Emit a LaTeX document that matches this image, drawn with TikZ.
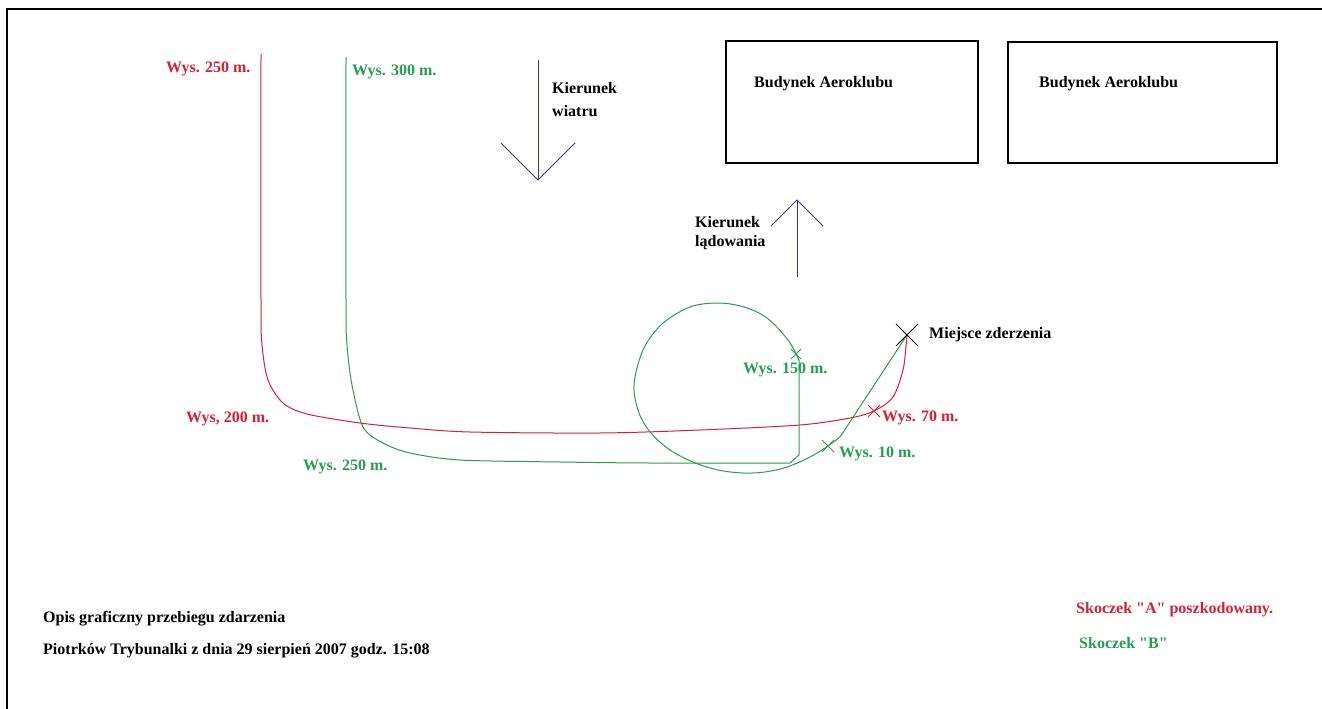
\documentclass[tikz,border=0pt]{standalone}
\usepackage{fontspec}
\setmainfont{Liberation Serif}
\newfontfamily\plainq{Liberation Serif}
\newcommand{\sq}{{\plainq\bfseries\char34}}
\definecolor{redA}{RGB}{214,32,52}
\definecolor{greenB}{RGB}{38,158,78}
\definecolor{arrowblue}{RGB}{52,52,140}
\tikzset{
  lbl/.style={font=\fontsize{16}{19}\selectfont\bfseries, inner sep=0pt, anchor=base west},
  redline/.style={draw=redA, line width=1pt},
  greenline/.style={draw=greenB, line width=1pt},
  arrowline/.style={draw=arrowblue, line width=1pt},
  building/.style={draw=black, line width=1.3pt},
}
\begin{document}
\begin{tikzpicture}[x=1pt,y=-1pt]
\useasboundingbox (0,0) rectangle (1322,709);
% frame
\draw[line width=2pt] (7,709) -- (7,9) -- (1322,9);

% buildings
\draw[building] (726,41) rectangle (978,163);
\draw[building] (1008,42) rectangle (1277,163);
\node[lbl] (b1) at (754,87) {Budynek Aeroklubu};
\node[lbl] (b2) at (1039,88) {Budynek Aeroklubu};

% wind arrow
\coordinate (wtop) at (538,60);
\coordinate (wtip) at (538,180);
\coordinate (wl) at (501,143);
\coordinate (wr) at (575,143);
\draw[arrowline] (wtop) -- (wtip);
\draw[arrowline] (wl) -- (wtip) -- (wr);
\node[lbl] (k1) at (552,93) {Kierunek};
\node[lbl] (k2) at (552,116) {wiatru};

% landing arrow
\coordinate (lbot) at (797,277);
\coordinate (ltip) at (797,200);
\coordinate (ll) at (771,226);
\coordinate (lr) at (823,226);
\draw[arrowline] (lbot) -- (ltip);
\draw[arrowline] (ll) -- (ltip) -- (lr);
\node[lbl] (k3) at (695,227) {Kierunek};
\node[lbl] (k4) at (695,246) {lądowania};

% collision point
\coordinate (hit) at (907,335);

% jumper A (red)
\draw[redline] plot[smooth, tension=0.5] coordinates {
  (261,54) (261,300) (262,345) (268,380) (283,403) (307,414) (360,423)
  (410,428) (470,432) (600,433) (700,430) (800,425) (850,418) (874,411)
  (893,397) (903,370) (906,346) (907,335)};

% jumper B (green)
\draw[greenline] plot[smooth, tension=0.5] coordinates {
  (346,57) (346,300) (347,345) (352,385) (363,427) (383,443) (410,453)
  (460,460) (560,462) (650,463) (790,463)};
\draw[greenline] (790,463) -- (799,455) -- (799,360);
\draw[greenline] plot[smooth, tension=0.55] coordinates {
  (799,360) (788,340) (767,318) (744,307) (718,303) (690,307) (662,324)
  (643,350) (634,385) (639,413) (651,433) (670,450) (693,462) (718,470)
  (743,473) (765,472) (787,467) (810,457) (828,446) (840,437)};
\draw[greenline] (840,437) -- (hit);

% markers
\draw[line width=1pt] (hit) ++(-11,-11) -- ++(22,22) (hit) ++(-11,11) -- ++(22,-22);
\draw[redline] (874,411) ++(-6,-6) -- ++(12,12) (874,411) ++(-6,6) -- ++(12,-12);
\draw[greenline] (796,354) ++(-5,-5) -- ++(10,10) (796,354) ++(-5,5) -- ++(10,-10);
\draw[greenline] (828,446) ++(-6,-6) -- ++(12,12) (828,446) ++(-6,6) -- ++(12,-12);

% labels
\node[lbl, text=redA] (ra) at (166,73) {Wys. 250 m.};
\node[lbl, text=greenB] (ga) at (352,76) {Wys. 300 m.};
\node[lbl, text=redA] (rb) at (186,422) {Wys, 200 m.};
\node[lbl, text=greenB] (gb) at (303,470) {Wys. 250 m.};
\node[lbl, text=greenB] (gc) at (743,373) {Wys. 150 m.};
\node[lbl, text=redA] (rc) at (882,421) {Wys. 70 m.};
\node[lbl, text=greenB] (gd) at (839,457) {Wys. 10 m.};
\node[lbl] (mz) at (929,338) {Miejsce zderzenia};

\node[lbl] (op) at (43,622) {Opis graficzny przebiegu zdarzenia};
\node[lbl] (pt) at (43,654) {Piotrków Trybunalki z dnia 29 sierpień 2007 godz. 15:08};
\node[lbl, text=redA] (sa) at (1076,613) {Skoczek \sq A\sq{} poszkodowany.};
\node[lbl, text=greenB] (sb) at (1079,648) {Skoczek \sq B\sq};
\end{tikzpicture}
\end{document}
